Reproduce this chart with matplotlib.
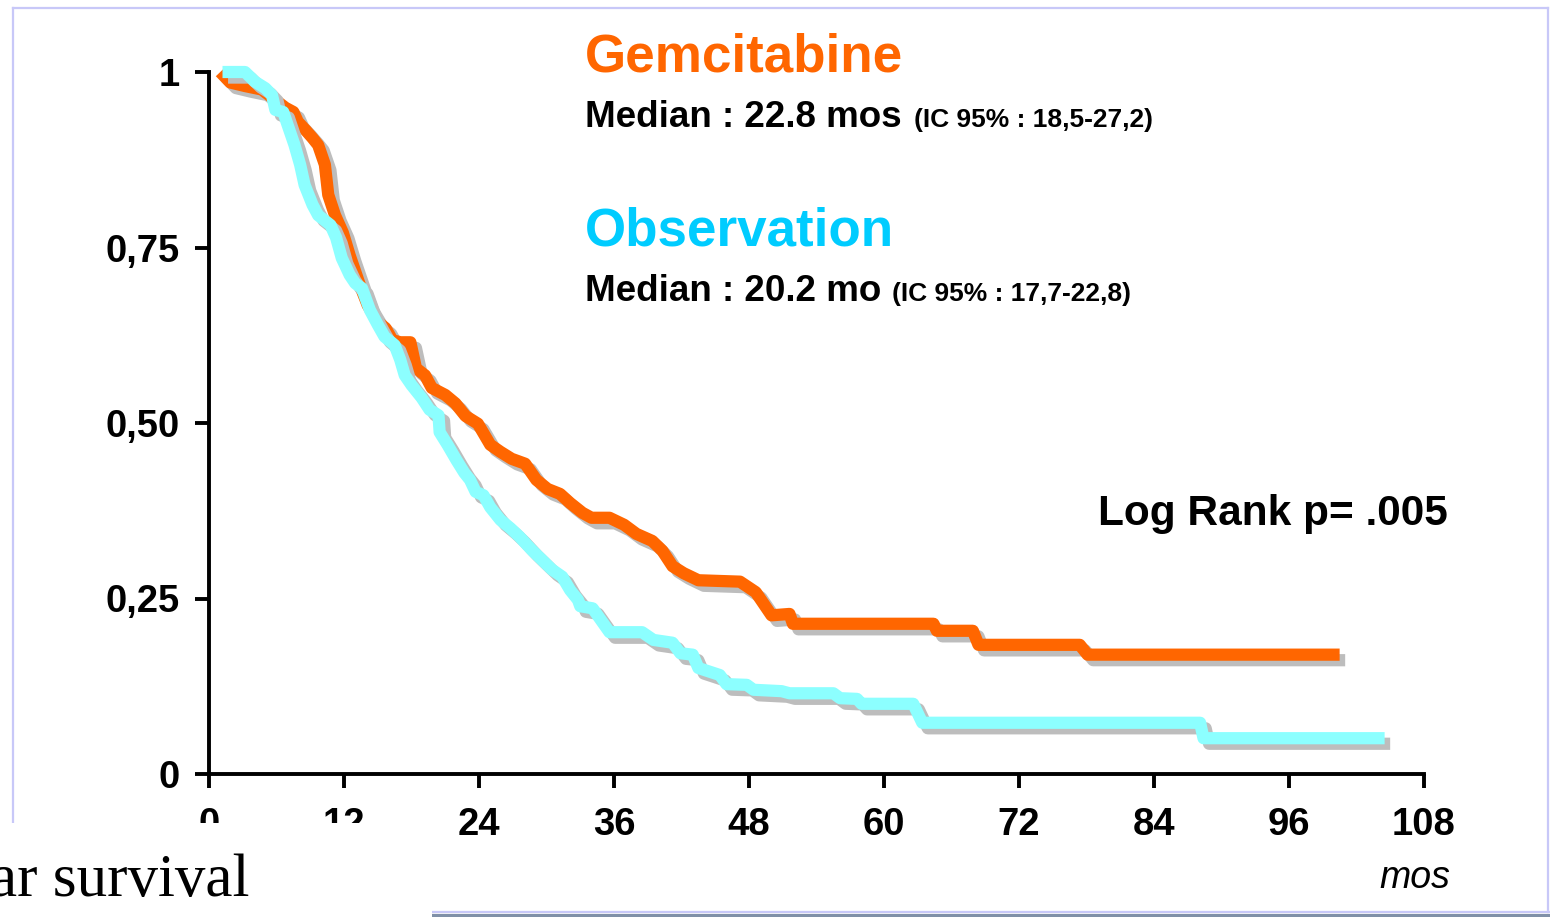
import numpy as np
import matplotlib.pyplot as plt
import matplotlib.patheffects as pe
from matplotlib.lines import Line2D
from matplotlib.patches import Rectangle

plt.rcParams['font.family'] = ['Liberation Sans', 'DejaVu Sans']

# Kaplan-Meier overall survival, months vs probability
gem_months = [1.0, 1.9, 3.2, 4.7, 5.9, 6.8, 7.5, 7.9, 8.6, 9.2, 9.7, 10.3, 10.6, 11.2,
              11.9, 12.5, 13.4, 14.1, 15.0, 15.7, 16.3, 17.0, 17.9, 18.4, 19.2, 19.8,
              21.0, 21.9, 22.8, 23.9, 25.0, 25.9, 26.9, 28.1, 29.1, 30.1, 31.2, 32.1,
              33.2, 34.0, 35.6, 36.9, 38.0, 39.4, 40.3, 41.2, 42.2, 43.5, 47.2, 48.6,
              50.0, 51.6, 51.9, 64.4, 64.7, 67.9, 68.4, 77.4, 78.1, 100.5]
gem_surv = [1.0, 0.985, 0.98, 0.975, 0.96, 0.949, 0.943, 0.929, 0.917, 0.906, 0.896,
            0.868, 0.825, 0.796, 0.771, 0.739, 0.697, 0.668, 0.644, 0.635, 0.618, 0.615,
            0.615, 0.578, 0.568, 0.55, 0.54, 0.528, 0.51, 0.499, 0.469, 0.459, 0.449,
            0.442, 0.419, 0.406, 0.399, 0.386, 0.372, 0.365, 0.365, 0.355, 0.342, 0.332,
            0.318, 0.296, 0.286, 0.276, 0.274, 0.259, 0.226, 0.228, 0.214, 0.214, 0.204,
            0.204, 0.184, 0.184, 0.17, 0.17]

obs_months = [1.2, 3.2, 4.1, 5.0, 5.6, 5.9, 6.6, 7.0, 7.6, 8.1, 8.5, 9.2, 9.7, 10.8,
              11.3, 11.8, 12.5, 13.0, 13.6, 14.3, 15.0, 15.6, 16.5, 17.0, 17.4, 18.0,
              18.9, 19.6, 20.4, 20.5, 21.2, 22.0, 22.7, 23.2, 23.7, 24.4, 25.0, 25.9,
              26.8, 27.6, 28.7, 29.6, 30.5, 31.4, 32.1, 32.8, 33.0, 34.1, 35.6, 38.5,
              39.5, 41.2, 41.9, 43.0, 43.5, 45.4, 46.0, 47.8, 48.4, 50.9, 51.6, 55.5,
              56.1, 57.6, 58.0, 62.6, 63.4, 88.1, 88.4, 104.5]
obs_surv = [1.0, 1.0, 0.986, 0.977, 0.967, 0.946, 0.943, 0.924, 0.896, 0.868, 0.839,
            0.811, 0.796, 0.782, 0.764, 0.735, 0.711, 0.699, 0.692, 0.661, 0.64, 0.623,
            0.611, 0.59, 0.568, 0.554, 0.536, 0.519, 0.511, 0.487, 0.469, 0.447, 0.429,
            0.419, 0.402, 0.397, 0.38, 0.362, 0.35, 0.338, 0.319, 0.305, 0.291, 0.281,
            0.262, 0.248, 0.239, 0.236, 0.202, 0.202, 0.191, 0.187, 0.172, 0.17, 0.151,
            0.141, 0.128, 0.127, 0.12, 0.118, 0.115, 0.115, 0.108, 0.107, 0.1, 0.1,
            0.073, 0.073, 0.051, 0.051]

x_ticks = [0, 12, 24, 36, 48, 60, 72, 84, 96, 108]
y_ticks = [0, 0.25, 0.5, 0.75, 1]
y_labels = ['0', '0,25', '0,50', '0,75', '1']

W, H = 1550, 917
fig = plt.figure(figsize=(W / 100, H / 100), dpi=100)


def fx(px):
    return px / W


def fy(py):
    return 1 - py / H


ax = fig.add_axes([fx(209), fy(774), fx(1424) - fx(209), fy(72) - fy(774)])
ax.set_xlim(0, 108)
ax.set_ylim(0, 1)

shadow = [pe.SimpleLineShadow(offset=(4, -4), shadow_color='#bdbdbd', alpha=1),
          pe.Normal()]
ax.plot(gem_months, gem_surv, color='#ff6600', lw=8.8, solid_joinstyle='round',
        solid_capstyle='butt', clip_on=False, path_effects=shadow, zorder=3)
ax.plot(obs_months, obs_surv, color='#8cffff', lw=8.8, solid_joinstyle='round',
        solid_capstyle='butt', clip_on=False, path_effects=shadow, zorder=4)

for side in ['top', 'right']:
    ax.spines[side].set_visible(False)
for side in ['left', 'bottom']:
    ax.spines[side].set_linewidth(2.8)
ax.set_xticks(x_ticks)
ax.set_yticks(y_ticks)
ax.set_yticklabels(y_labels)
ax.tick_params(axis='both', direction='out', length=10, width=2.8, labelsize=27.5)
ax.tick_params(axis='x', pad=14)
ax.tick_params(axis='y', pad=11)
for lab in ax.get_xticklabels() + ax.get_yticklabels():
    lab.set_fontweight('bold')

# annotations
fig.text(fx(585), fy(72), 'Gemcitabine', color='#ff6600', fontsize=38.2,
         fontweight='bold', va='baseline')
fig.text(fx(585), fy(127), 'Median : 22.8 mos', fontsize=26.5, fontweight='bold',
         va='baseline')
fig.text(fx(914), fy(127), '(IC 95% : 18,5-27,2)', fontsize=19, fontweight='bold',
         va='baseline')
fig.text(fx(585), fy(246), 'Observation', color='#00ccff', fontsize=38.2,
         fontweight='bold', va='baseline')
fig.text(fx(585), fy(301), 'Median : 20.2 mo', fontsize=26.5, fontweight='bold',
         va='baseline')
fig.text(fx(892), fy(301), '(IC 95% : 17,7-22,8)', fontsize=19, fontweight='bold',
         va='baseline')
fig.text(fx(1448), fy(525), 'Log Rank p= .005', fontsize=30.5, fontweight='bold',
         va='baseline', ha='right')
fig.text(fx(1450), fy(888), 'mos', fontsize=27, fontstyle='italic', va='baseline',
         ha='right')

# slide frame
frame = '#c8c8f8'
fig.add_artist(Line2D([fx(13), fx(1548)], [fy(8), fy(8)], color=frame, lw=1.6))
fig.add_artist(Line2D([fx(13), fx(13)], [fy(8), fy(825)], color=frame, lw=1.6))
fig.add_artist(Line2D([fx(1548), fx(1548)], [fy(8), fy(912)], color=frame, lw=1.6))
fig.add_artist(Line2D([fx(432), fx(1550)], [fy(912), fy(912)], color=frame, lw=1.6))
fig.add_artist(Line2D([fx(432), fx(1550)], [fy(915.5), fy(915.5)], color='#8090a8',
                      lw=3))

# caption box overlapping the chart corner
fig.add_artist(Rectangle((0, 0), fx(432), fy(823), facecolor='white',
                         edgecolor='none', zorder=10))
fig.text(fx(250), fy(896), 'ar survival', family=['Liberation Serif', 'DejaVu Serif'],
         fontsize=44, ha='right', va='baseline', zorder=11)

fig.savefig('out.png', dpi=100)
